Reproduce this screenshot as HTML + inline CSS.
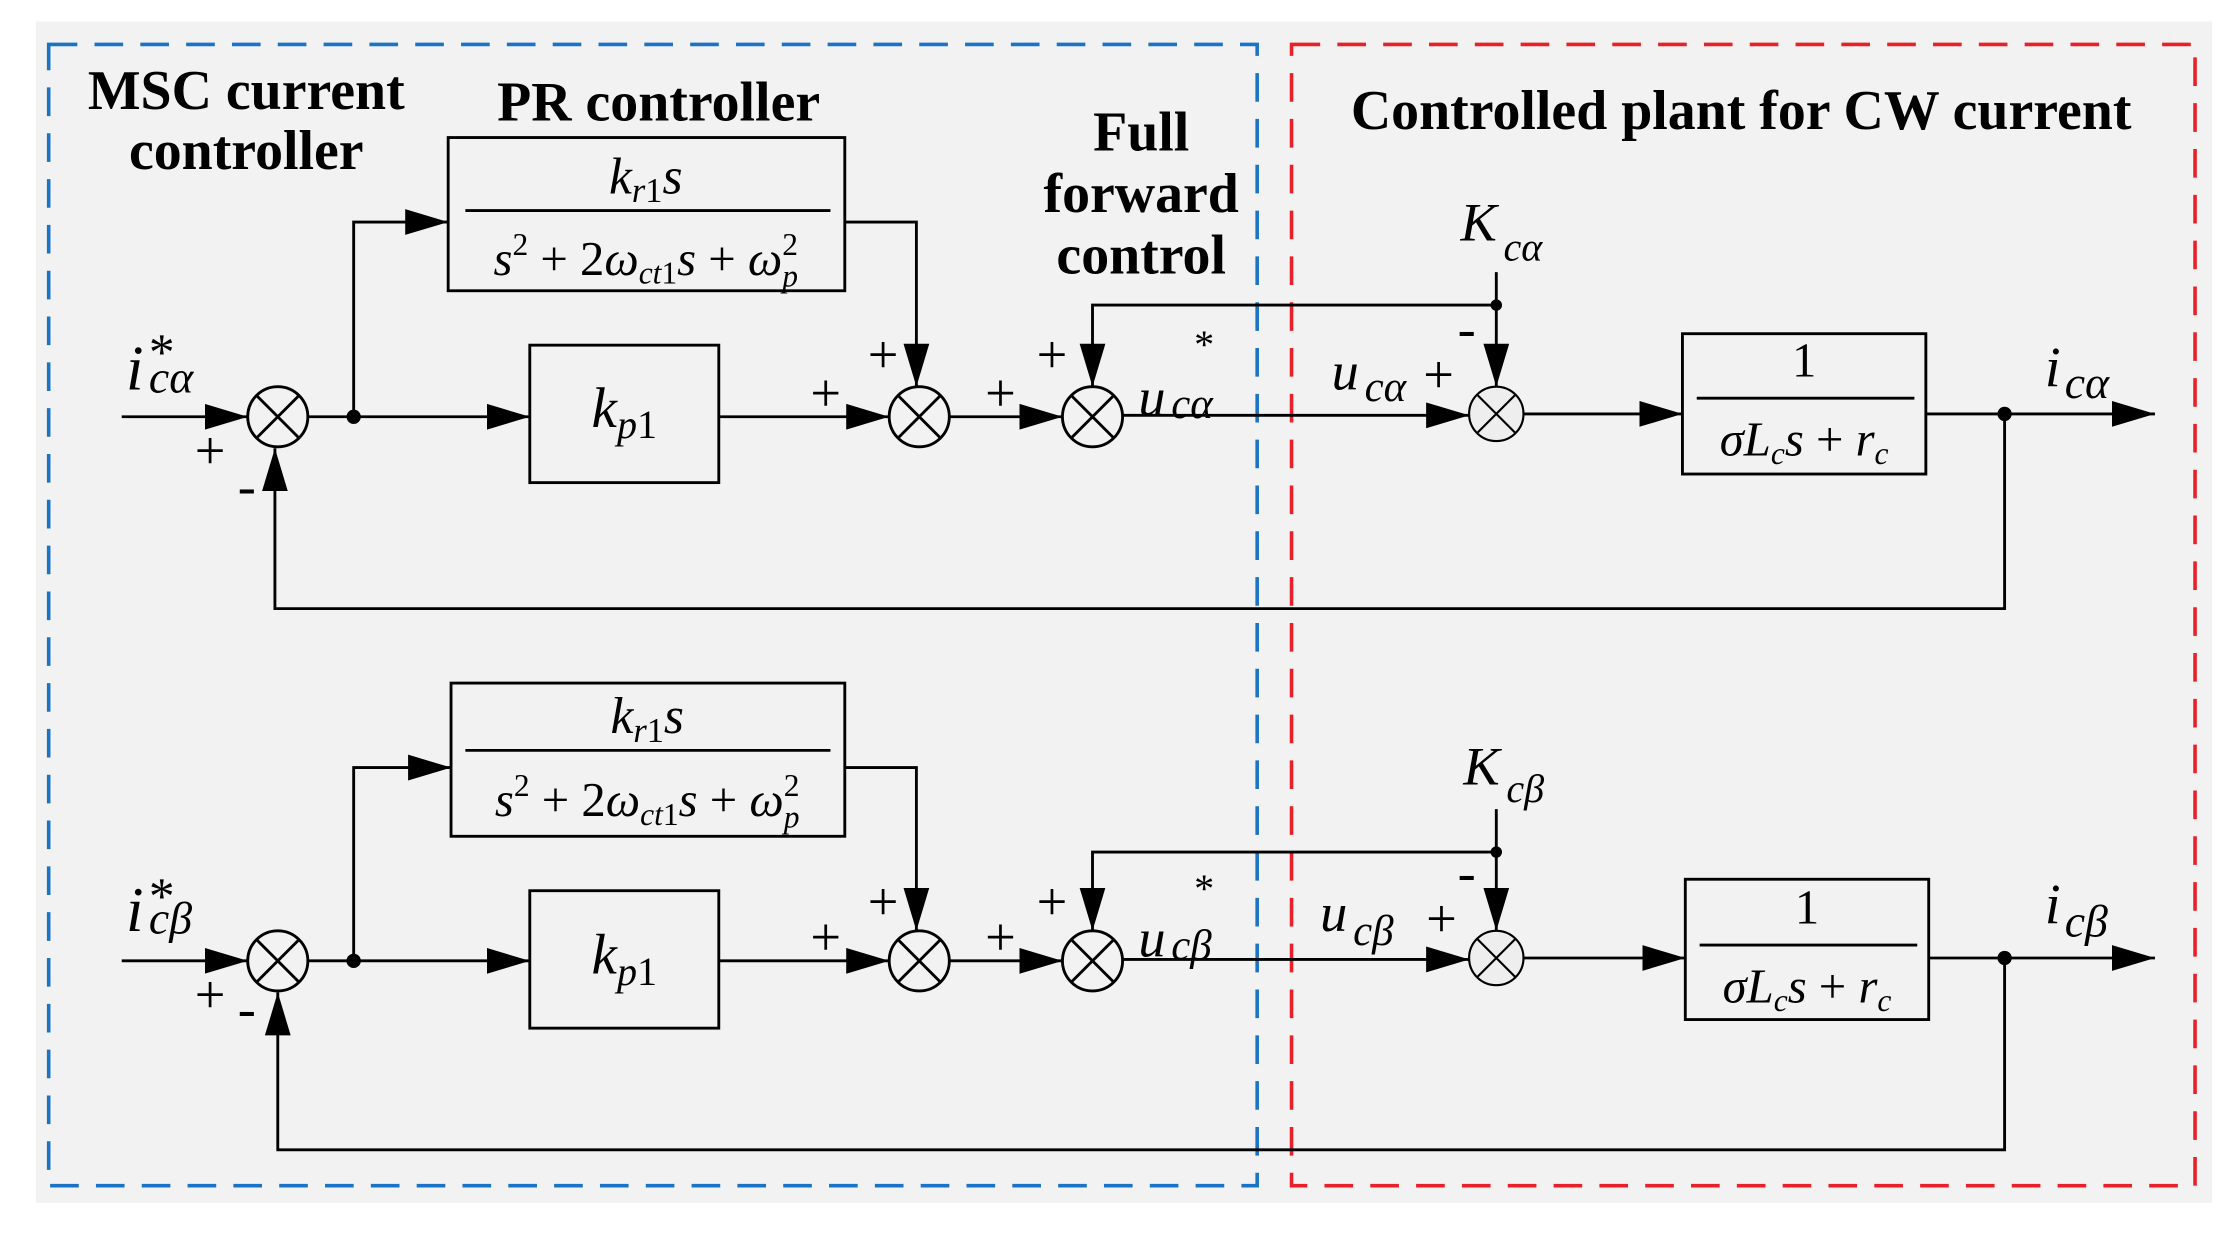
<!DOCTYPE html>
<html><head><meta charset="utf-8"><style>
html,body{margin:0;padding:0;background:#fff;}
svg{display:block;}
text{font-family:"Liberation Serif","Times New Roman","DejaVu Serif",serif;fill:#000;}
.b{font-weight:bold;font-size:39px;}
.i{font-style:italic;}
</style></head><body>
<svg width="2238" height="1233" viewBox="0 0 1563 861" xmlns="http://www.w3.org/2000/svg" font-family="Liberation Serif, Times New Roman, serif">
<defs>
<marker id="a" markerUnits="userSpaceOnUse" markerWidth="30" markerHeight="20" refX="30" refY="9" orient="auto">
<path d="M0,0 L30,9 L0,18 Z" fill="#000"/></marker>
<g id="sum"><circle r="21" fill="none" stroke="#000" stroke-width="2"/><path d="M-15,-15 L15,15 M15,-15 L-15,15" stroke="#000" stroke-width="2"/></g>
<g id="sum2"><circle r="19" fill="#eee" stroke="#000" stroke-width="1.5"/><path d="M-13,-13 L13,13 M13,-13 L-13,13" stroke="#000" stroke-width="1.5"/></g>
</defs>
<rect x="25" y="15" width="1520" height="825" fill="#f2f2f2"/>
<rect x="34" y="31" width="844" height="797" fill="none" stroke="#1a73c4" stroke-width="2.5" stroke-dasharray="20,12"/>
<rect x="902" y="31" width="631" height="797" fill="none" stroke="#e8202a" stroke-width="2.5" stroke-dasharray="20,12"/>
<text class="b" x="172" y="76" text-anchor="middle">MSC current</text>
<text class="b" x="172" y="118" text-anchor="middle">controller</text>
<text class="b" x="460" y="84" text-anchor="middle" font-size="37">PR controller</text>
<text class="b" x="797" y="105" text-anchor="middle" font-size="37">Full</text>
<text class="b" x="797" y="148" text-anchor="middle" font-size="37">forward</text>
<text class="b" x="797" y="191" text-anchor="middle" font-size="37">control</text>
<text class="b" x="1216" y="90" text-anchor="middle" font-size="40">Controlled plant for CW current</text>

<g stroke="#000" stroke-width="2" fill="none">
<path d="M85,291 H173" marker-end="url(#a)"/>
<path d="M215,291 H370" marker-end="url(#a)"/>
<path d="M247,291 V155 H313" marker-end="url(#a)"/>
<rect x="313" y="96" width="277" height="107"/>
<path d="M325,147 H580"/>
<path d="M590,155 H640 V270" marker-end="url(#a)"/>
<rect x="370" y="241" width="132" height="96"/>
<path d="M502,291 H621" marker-end="url(#a)"/>
<path d="M663,291 H742" marker-end="url(#a)"/>
<path d="M1045,213 H763 V270" marker-end="url(#a)"/>
<path d="M784,290 H1026" marker-end="url(#a)"/>
<path d="M1045,190 V270" marker-end="url(#a)"/>
<path d="M1064,289 H1175" marker-end="url(#a)"/>
<rect x="1175" y="233" width="170" height="98"/>
<path d="M1185,278 H1337"/>
<path d="M1345,289 H1505" marker-end="url(#a)"/>
<path d="M1400,289 V425 H192 V313" marker-end="url(#a)"/>
<path d="M85,671 H173" marker-end="url(#a)"/>
<path d="M215,671 H370" marker-end="url(#a)"/>
<path d="M247,671 V536 H315" marker-end="url(#a)"/>
<rect x="315" y="477" width="275" height="107"/>
<path d="M325,524 H580"/>
<path d="M590,536 H640 V650" marker-end="url(#a)"/>
<rect x="370" y="622" width="132" height="96"/>
<path d="M502,671 H621" marker-end="url(#a)"/>
<path d="M663,671 H742" marker-end="url(#a)"/>
<path d="M1045,595 H763 V650" marker-end="url(#a)"/>
<path d="M784,670 H1026" marker-end="url(#a)"/>
<path d="M1045,565 V650" marker-end="url(#a)"/>
<path d="M1064,669 H1177" marker-end="url(#a)"/>
<rect x="1177" y="614" width="170" height="98"/>
<path d="M1187,660 H1339"/>
<path d="M1347,669 H1505" marker-end="url(#a)"/>
<path d="M1400,669 V803 H194 V693" marker-end="url(#a)"/>
</g>
<g fill="#000">
<circle cx="247" cy="291" r="5"/><circle cx="1045" cy="213" r="4"/><circle cx="1400" cy="289" r="5"/>
<circle cx="247" cy="671" r="5"/><circle cx="1045" cy="595" r="4"/><circle cx="1400" cy="669" r="5"/>
</g>
<use href="#sum" x="194" y="291"/><use href="#sum" x="642" y="291"/><use href="#sum" x="763" y="291"/><use href="#sum2" x="1045" y="289"/>
<use href="#sum" x="194" y="671"/><use href="#sum" x="642" y="671"/><use href="#sum" x="763" y="671"/><use href="#sum2" x="1045" y="669"/>

<g font-size="38">
<text x="136" y="327">+</text><text x="166" y="352">-</text>
<text x="566" y="287">+</text><text x="606" y="260">+</text><text x="688" y="287">+</text><text x="724" y="260">+</text>
<text x="994" y="274">+</text><text x="1018" y="242">-</text>
<text x="136" y="707">+</text><text x="166" y="717">-</text>
<text x="566" y="667">+</text><text x="606" y="642">+</text><text x="688" y="667">+</text><text x="724" y="642">+</text>
<text x="996" y="654">+</text><text x="1018" y="622">-</text>
</g>
<text class="i" x="88" y="272" font-size="44">i</text><text x="104" y="258" font-size="36">*</text><text class="i" x="104" y="274" font-size="32">cα</text>
<text class="i" x="795" y="290" font-size="38">u</text><text x="834" y="250" font-size="28">*</text><text class="i" x="818" y="292" font-size="30">cα</text>
<text class="i" x="930" y="272" font-size="38">u</text><text class="i" x="953" y="280" font-size="30">cα</text>
<text class="i" x="1020" y="168" font-size="38">K</text><text class="i" x="1050" y="182" font-size="28">cα</text>
<text class="i" x="1428" y="270" font-size="40">i</text><text class="i" x="1442" y="278" font-size="32">cα</text>
<text x="451" y="135" text-anchor="middle" font-size="36"><tspan class="i">k</tspan><tspan class="i" font-size="24" dy="6">r</tspan><tspan font-size="24">1</tspan><tspan class="i" dy="-6">s</tspan></text>
<text x="451" y="192" text-anchor="middle" font-size="34"><tspan class="i">s</tspan><tspan font-size="22" dy="-14">2</tspan><tspan dy="14"> + 2</tspan><tspan class="i">ω</tspan><tspan class="i" font-size="22" dy="6">ct</tspan><tspan font-size="22">1</tspan><tspan class="i" dy="-6">s</tspan><tspan> + </tspan><tspan class="i">ω</tspan><tspan font-size="22" dy="-14">2</tspan><tspan class="i" font-size="22" dx="-11" dy="22">p</tspan></text>
<text x="436" y="298" text-anchor="middle" font-size="40"><tspan class="i">k</tspan><tspan class="i" font-size="28" dy="8">p</tspan><tspan font-size="28">1</tspan></text>
<text x="1260" y="263" text-anchor="middle" font-size="34">1</text>
<text x="1260" y="318" text-anchor="middle" font-size="34"><tspan class="i">σL</tspan><tspan class="i" font-size="22" dy="6">c</tspan><tspan class="i" dy="-6">s</tspan><tspan> + </tspan><tspan class="i">r</tspan><tspan class="i" font-size="22" dy="6">c</tspan></text>
<text class="i" x="88" y="650" font-size="44">i</text><text x="104" y="638" font-size="36">*</text><text class="i" x="104" y="652" font-size="32">cβ</text>
<text class="i" x="795" y="668" font-size="38">u</text><text x="834" y="630" font-size="28">*</text><text class="i" x="818" y="670" font-size="30">cβ</text>
<text class="i" x="922" y="650" font-size="38">u</text><text class="i" x="945" y="660" font-size="30">cβ</text>
<text class="i" x="1022" y="548" font-size="38">K</text><text class="i" x="1052" y="560" font-size="28">cβ</text>
<text class="i" x="1428" y="645" font-size="40">i</text><text class="i" x="1442" y="654" font-size="32">cβ</text>
<text x="452" y="512" text-anchor="middle" font-size="36"><tspan class="i">k</tspan><tspan class="i" font-size="24" dy="6">r</tspan><tspan font-size="24">1</tspan><tspan class="i" dy="-6">s</tspan></text>
<text x="452" y="570" text-anchor="middle" font-size="34"><tspan class="i">s</tspan><tspan font-size="22" dy="-14">2</tspan><tspan dy="14"> + 2</tspan><tspan class="i">ω</tspan><tspan class="i" font-size="22" dy="6">ct</tspan><tspan font-size="22">1</tspan><tspan class="i" dy="-6">s</tspan><tspan> + </tspan><tspan class="i">ω</tspan><tspan font-size="22" dy="-14">2</tspan><tspan class="i" font-size="22" dx="-11" dy="22">p</tspan></text>
<text x="436" y="680" text-anchor="middle" font-size="40"><tspan class="i">k</tspan><tspan class="i" font-size="28" dy="8">p</tspan><tspan font-size="28">1</tspan></text>
<text x="1262" y="645" text-anchor="middle" font-size="34">1</text>
<text x="1262" y="700" text-anchor="middle" font-size="34"><tspan class="i">σL</tspan><tspan class="i" font-size="22" dy="6">c</tspan><tspan class="i" dy="-6">s</tspan><tspan> + </tspan><tspan class="i">r</tspan><tspan class="i" font-size="22" dy="6">c</tspan></text>
</svg>
</body></html>
